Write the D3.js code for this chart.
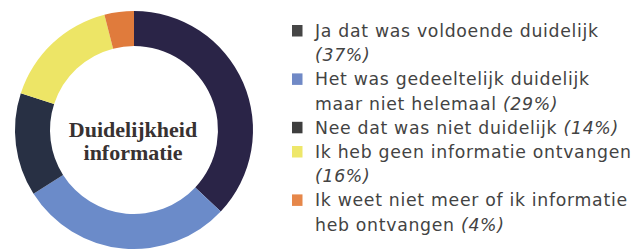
<!DOCTYPE html>
<html>
<head>
<meta charset="utf-8">
<script src="https://cdn.jsdelivr.net/npm/d3@7"></script>
<style>
  html, body { margin: 0; padding: 0; background: #fff; }
</style>
</head>
<body>
<div id="chart"></div>
<script>
// Duidelijkheid informatie - donut with legend

const categories = [
    "Ja dat was voldoende duidelijk",
    "Het was gedeeltelijk duidelijk maar niet helemaal",
    "Nee dat was niet duidelijk",
    "Ik heb geen informatie ontvangen",
    "Ik weet niet meer of ik informatie heb ontvangen"
];
const values = [37, 29, 14, 16, 4];
// legend text as printed, the last line gets the percentage
const legendLines = [
    ["Ja dat was voldoende duidelijk", ""],
    ["Het was gedeeltelijk duidelijk", "maar niet helemaal"],
    ["Nee dat was niet duidelijk"],
    ["Ik heb geen informatie ontvangen", ""],
    ["Ik weet niet meer of ik informatie", "heb ontvangen"]
];
const centerTitle = ["Duidelijkheid", "informatie"];

const sliceColors = ["#2a2447", "#6b8bc9", "#283044", "#ede566", "#e07b3c"];
const keyColors = ["#464646", "#7089c6", "#3e3e3e", "#eee76a", "#e6874a"];

const width = 636, height = 251;
const cx = 134, cy = 130;
const outerR = 119, innerR = 84;

const svg = d3.select("#chart").append("svg")
    .attr("width", width)
    .attr("height", height);

// 1. DONUT
const pie = d3.pie().sort(null).value(d => d);
const arc = d3.arc().innerRadius(innerR).outerRadius(outerR);

const donut = svg.append("g").attr("transform", `translate(${cx},${cy})`);
donut.selectAll("path")
    .data(pie(values))
    .join("path")
    .attr("d", arc)
    .attr("fill", (d, i) => sliceColors[i]);

donut.selectAll("text.title")
    .data(centerTitle)
    .join("text")
    .attr("class", "title")
    .attr("x", -1)
    .attr("y", (d, i) => 7 + i * 23)
    .attr("text-anchor", "middle")
    .attr("fill", "#383232")
    .style("font-family", "'Liberation Serif', serif")
    .style("font-weight", "bold")
    .style("font-size", "22px")
    .text(d => d);

// 2. LEGEND
const legendX = 292, textX = 315;
const lineH = 24.2, firstY = 37;
const fmt = v => `(${v}%)`;

const legend = svg.append("g");
let lineIdx = 0;
legendLines.forEach((lines, i) => {
    const baseY = firstY + lineIdx * lineH;
    legend.append("rect")
        .attr("x", legendX)
        .attr("y", baseY - 12)
        .attr("width", 10.5)
        .attr("height", 11.5)
        .attr("fill", keyColors[i]);

    lines.forEach((ln, j) => {
        const t = legend.append("text")
            .attr("x", textX)
            .attr("y", firstY + (lineIdx + j) * lineH)
            .attr("fill", "#434343")
            .style("font-family", "'DejaVu Sans', sans-serif")
            .style("font-size", "17.3px")
            .style("letter-spacing", "0.7px");
        t.append("tspan").text(ln);
        if (j === lines.length - 1) {
            t.append("tspan")
                .style("font-style", "italic")
                .text((ln ? " " : "") + fmt(values[i]));
        }
    });
    lineIdx += lines.length;
});
</script>
</body>
</html>
